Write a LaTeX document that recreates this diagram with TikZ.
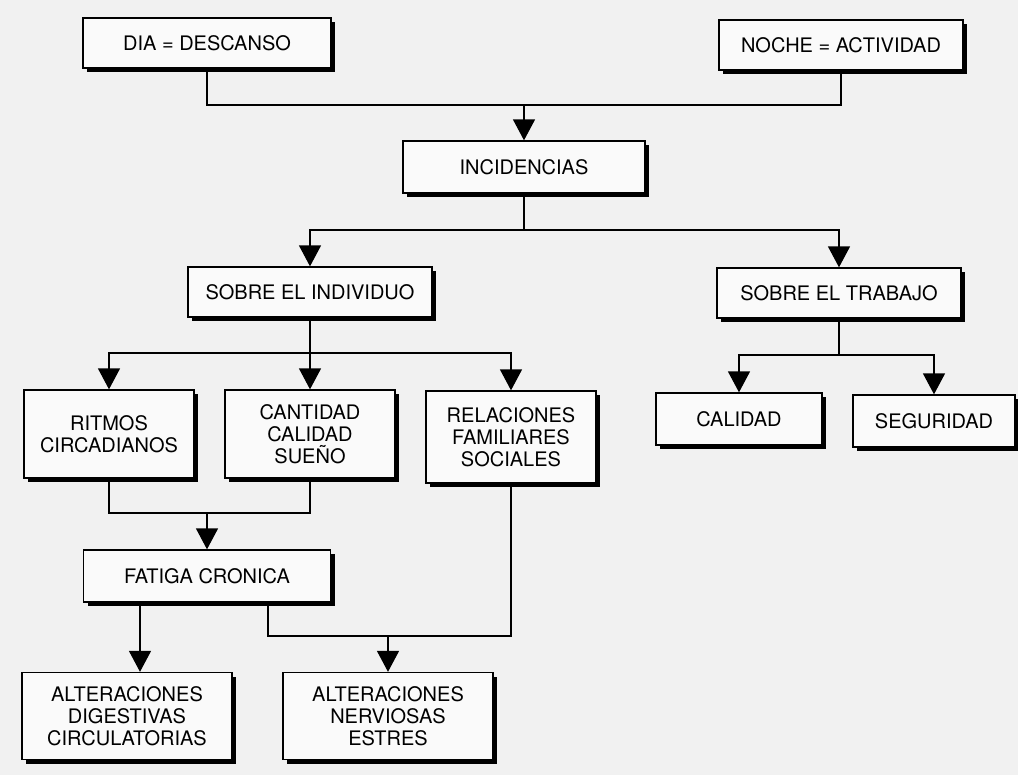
\documentclass[tikz,border=0pt]{standalone}
\usepackage{fontspec}
\setmainfont{TeX Gyre Heros}
\usetikzlibrary{arrows.meta,shadows}
\definecolor{bgcol}{RGB}{241,241,241}
\definecolor{boxfill}{RGB}{250,250,250}
\tikzset{
  box/.style={draw=black, line width=1.3pt, fill=boxfill, inner sep=0pt,
    align=center, font=\fontsize{20}{22}\selectfont,
    drop shadow={shadow xshift=4pt, shadow yshift=-4pt, fill=black, opacity=1}},
  conn/.style={line width=1.4pt, draw=black},
  arr/.style={conn, -{Triangle[width=22pt,length=21pt]}}
}
\begin{document}
\begin{tikzpicture}[x=1pt,y=-1pt]
\fill[bgcol] (0,0) rectangle (1018,775);
\useasboundingbox (0,0) rectangle (1018,775);

% boxes
\node[box, minimum width=248pt, minimum height=50pt] (dia)   at (207,43)  {DIA = DESCANSO};
\node[box, minimum width=244pt, minimum height=50pt] (noche) at (841,45)  {NOCHE = ACTIVIDAD};
\node[box, minimum width=242pt, minimum height=52pt] (inc)   at (524,167) {INCIDENCIAS};
\node[box, minimum width=244pt, minimum height=50pt] (ind)   at (310,292) {SOBRE EL INDIVIDUO};
\node[box, minimum width=244pt, minimum height=50pt] (trab)  at (839,293) {SOBRE EL TRABAJO};
\node[box, minimum width=170pt, minimum height=88pt] (rit)   at (109,434) {RITMOS\\CIRCADIANOS};
\node[box, minimum width=170pt, minimum height=88pt] (cant)  at (310,434) {CANTIDAD\\CALIDAD\\SUEÑO};
\node[box, minimum width=170pt, minimum height=92pt] (rel)   at (511,437) {RELACIONES\\FAMILIARES\\SOCIALES};
\node[box, minimum width=166pt, minimum height=52pt] (cal)   at (739,419) {CALIDAD};
\node[box, minimum width=162pt, minimum height=52pt] (seg)   at (934,421) {SEGURIDAD};
\node[box, minimum width=247pt, minimum height=52pt] (fat)   at (207,576) {FATIGA CRONICA};
\node[box, minimum width=210pt, minimum height=87pt] (dig)   at (127,716) {ALTERACIONES\\DIGESTIVAS\\CIRCULATORIAS};
\node[box, minimum width=210pt, minimum height=87pt] (nerv)  at (388,716) {ALTERACIONES\\NERVIOSAS\\ESTRES};

% junctions
\coordinate (j1) at (524,105);
\coordinate (j2) at (524,230);
\coordinate (j3) at (310,353);
\coordinate (j4) at (839,355);
\coordinate (j5) at (207,513);
\coordinate (a6) at ([xshift=13pt]dig.north);
\coordinate (k1) at (268,636);

% connectors
\draw[conn] (dia.south) |- (j1) -| (noche.south);
\draw[arr] (j1) -- (inc.north);

\draw[conn] (inc.south) -- (j2);
\draw[arr] (j2) -| (ind.north);
\draw[arr] (j2) -| (trab.north);

\draw[conn] (ind.south) -- (j3);
\draw[arr] (j3) -| (rit.north);
\draw[arr] (j3) -- (cant.north);
\draw[arr] (j3) -| (rel.north);

\draw[conn] (trab.south) -- (j4);
\draw[arr] (j4) -| (cal.north);
\draw[arr] (j4) -| (seg.north);

\draw[conn] (rit.south) |- (j5) -| (cant.south);
\draw[arr] (j5) -- (fat.north);

\draw[arr] (fat.south -| a6) -- (a6);

\draw[conn] (fat.south -| k1) -- (k1) -- (k1 -| rel.south) -- (rel.south);
\draw[arr] (k1 -| nerv.north) -- (nerv.north);
\end{tikzpicture}
\end{document}
